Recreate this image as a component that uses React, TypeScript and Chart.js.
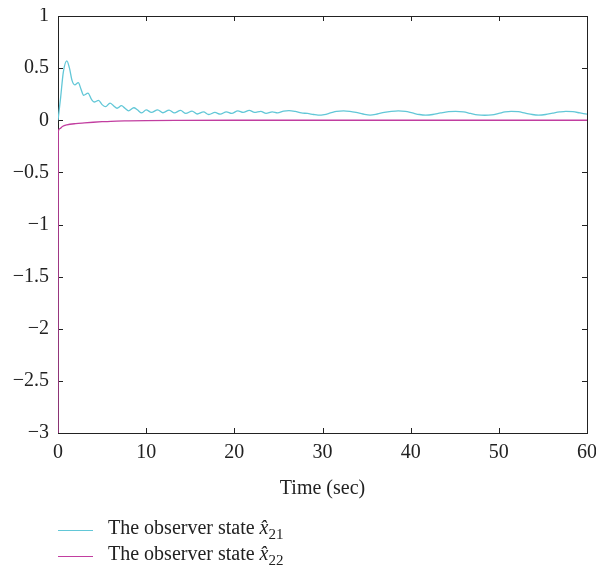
import React, { useEffect, useRef } from 'react';
import { Chart, registerables } from 'chart.js';
Chart.register(...registerables);

// Observer state x̂21 (time in sec, value)
const x21Time = [0, 0.3, 0.6, 1.0, 1.3, 1.6, 1.9, 2.3, 2.6, 2.9, 3.4, 3.8, 4.1, 4.6, 5.0, 5.4, 5.9, 6.3, 6.7, 7.2, 7.6, 8.0, 8.6, 9.0, 9.5, 10.0, 10.6, 11.3, 11.9, 12.6, 13.2, 13.9, 14.5, 15.2, 15.8, 16.5, 17.1, 17.8, 18.4, 19.1, 19.7, 20.4, 21.0, 21.7, 22.3, 23.0, 23.6, 24.3, 24.9, 25.6, 26.2, 26.9, 27.6, 28.3, 29.0, 29.5, 30.2, 30.9, 31.6, 32.4, 33.1, 33.8, 34.6, 35.4, 36.2, 37.0, 37.8, 38.6, 39.4, 40.2, 41.0, 41.7, 42.5, 43.4, 44.3, 45.1, 46.0, 46.8, 47.6, 48.4, 49.2, 50.0, 50.7, 51.4, 52.2, 53.0, 53.8, 54.5, 55.3, 56.1, 56.9, 57.6, 58.4, 59.2, 60.0];
const x21Value = [0, 0.22, 0.46, 0.57, 0.5, 0.38, 0.34, 0.36, 0.3, 0.24, 0.26, 0.2, 0.175, 0.19, 0.15, 0.13, 0.165, 0.14, 0.115, 0.14, 0.115, 0.09, 0.12, 0.1, 0.07, 0.1, 0.075, 0.1, 0.072, 0.098, 0.07, 0.095, 0.065, 0.088, 0.06, 0.08, 0.055, 0.075, 0.058, 0.08, 0.065, 0.09, 0.075, 0.095, 0.075, 0.085, 0.065, 0.08, 0.07, 0.088, 0.093, 0.085, 0.07, 0.065, 0.055, 0.05, 0.055, 0.07, 0.085, 0.09, 0.085, 0.075, 0.06, 0.05, 0.06, 0.075, 0.085, 0.09, 0.085, 0.07, 0.055, 0.05, 0.055, 0.07, 0.082, 0.086, 0.08, 0.065, 0.052, 0.048, 0.052, 0.066, 0.08, 0.086, 0.082, 0.068, 0.055, 0.05, 0.055, 0.068, 0.08, 0.086, 0.082, 0.07, 0.058];

// Observer state x̂22
const x22Time = [0, 0.03, 0.2, 0.5, 1, 2, 3, 4, 5, 6, 8, 10, 14, 20, 30, 40, 50, 60];
const x22Value = [-3, -0.11, -0.08, -0.06, -0.045, -0.032, -0.025, -0.019, -0.014, -0.01, -0.006, -0.003, -0.001, 0, 0, 0, 0, 0];

const xTicks = [0, 10, 20, 30, 40, 50, 60];
const yTicks = [1, 0.5, 0, -0.5, -1, -1.5, -2, -2.5, -3];

const cyan = '#62c7d7';
const magenta = '#c23ea0';
const fontFamily = '"Liberation Serif", "DejaVu Serif", serif';

const boxPlugin = {
  id: 'boxTicks',
  beforeDatasetsDraw(chart: any) {
    const { ctx, chartArea: a, scales } = chart;
    ctx.save();
    ctx.strokeStyle = '#222';
    ctx.lineWidth = 1;
    ctx.strokeRect(Math.round(a.left) + 0.5, Math.round(a.top) + 0.5, Math.round(a.right - a.left), Math.round(a.bottom - a.top));
    const len = 5;
    ctx.beginPath();
    for (const v of xTicks) {
      const px = Math.round(scales.x.getPixelForValue(v)) + 0.5;
      ctx.moveTo(px, a.bottom);
      ctx.lineTo(px, a.bottom - len);
      ctx.moveTo(px, a.top);
      ctx.lineTo(px, a.top + len);
    }
    for (const v of yTicks) {
      const py = Math.round(scales.y.getPixelForValue(v)) + 0.5;
      ctx.moveTo(a.left, py);
      ctx.lineTo(a.left + len, py);
      ctx.moveTo(a.right, py);
      ctx.lineTo(a.right - len, py);
    }
    ctx.stroke();
    ctx.restore();
  },
};

const fmt = (v: number) => (v < 0 ? '\u2212' + String(Math.abs(v)) : String(v));

export default function App() {
  const ref = useRef<HTMLCanvasElement | null>(null);
  useEffect(() => {
    if (!ref.current) return;
    const chart = new Chart(ref.current, {
      type: 'line',
      data: {
        datasets: [
          {
            label: 'x21',
            data: x21Time.map((t, i) => ({ x: t, y: x21Value[i] })),
            borderColor: cyan,
            borderWidth: 1.3,
            pointRadius: 0,
            cubicInterpolationMode: 'monotone',
            fill: false,
          },
          {
            label: 'x22',
            data: x22Time.map((t, i) => ({ x: t, y: x22Value[i] })),
            borderColor: magenta,
            borderWidth: 1.3,
            pointRadius: 0,
            cubicInterpolationMode: 'monotone',
            fill: false,
          },
        ],
      },
      options: {
        animation: false,
        responsive: false,
        layout: { padding: { top: 8, right: 9, left: 0, bottom: 0 } },
        plugins: { legend: { display: false }, tooltip: { enabled: false } },
        scales: {
          x: {
            type: 'linear',
            min: 0,
            max: 60,
            afterBuildTicks: (s: any) => { s.ticks = xTicks.map((v) => ({ value: v })); },
            ticks: { color: '#222', font: { family: fontFamily, size: 20 }, padding: 0, maxRotation: 0 },
            grid: { display: false },
            border: { display: false },
            title: { display: true, text: 'Time (sec)', color: '#222', font: { family: fontFamily, size: 20 }, padding: { top: 0, bottom: 7 } },
            afterFit: (s: any) => { s.height = 75; s.paddingLeft = 0; s.paddingRight = 0; },
          },
          y: {
            type: 'linear',
            min: -3,
            max: 1,
            afterBuildTicks: (s: any) => { s.ticks = yTicks.map((v) => ({ value: v })); },
            ticks: { color: '#222', font: { family: fontFamily, size: 20 }, padding: 9, callback: (v: any) => fmt(Number(v)) },
            grid: { display: false, drawTicks: false },
            border: { display: false },
            afterFit: (s: any) => { s.width = 50; s.paddingTop = 0; s.paddingBottom = 0; },
          },
        },
      },
      plugins: [boxPlugin],
    } as any);
    return () => chart.destroy();
  }, []);

  const row = (color: string, sub: string) => (
    <div style={{ display: 'flex', alignItems: 'center', height: 26 }}>
      <span style={{ display: 'inline-block', width: 35, height: 0, borderTop: `1px solid ${color}`, marginRight: 15 }} />
      <span>
        The observer state <i>x{'\u0302'}</i>
        <sub style={{ fontSize: 15 }}>{sub}</sub>
      </span>
    </div>
  );

  return (
    <div style={{ position: 'fixed', left: 8, top: 8, width: 588, height: 561, overflow: 'hidden' }}>
      <canvas ref={ref} width={588} height={500} style={{ display: 'block' }} />
      <div style={{ position: 'absolute', left: 50, top: 509, fontFamily, fontSize: 20, color: '#222', lineHeight: '22px' }}>
        {row(cyan, '21')}
        {row(magenta, '22')}
      </div>
    </div>
  );
}
